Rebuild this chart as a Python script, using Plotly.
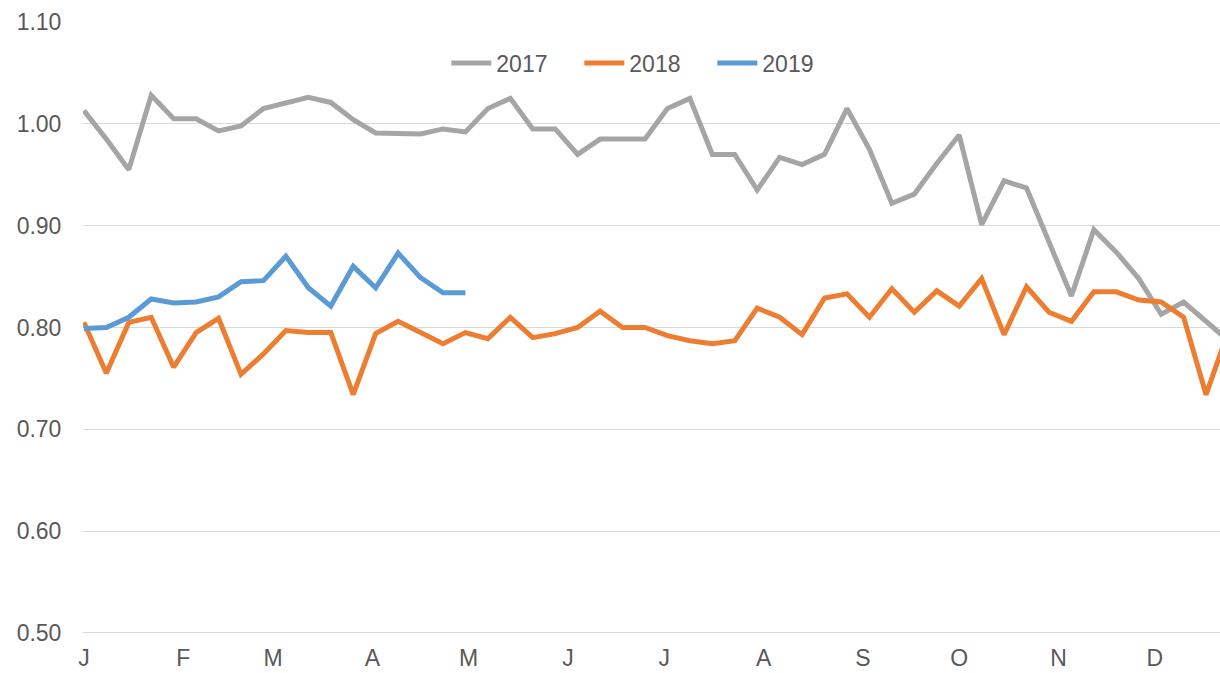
import plotly.graph_objects as go

# ---- data (weekly index values) ----
weeks = list(range(52))

y2017 = [1.013, 0.985, 0.955, 1.028, 1.005, 1.005, 0.993, 0.998, 1.015, 1.020,
         1.026, 1.021, 1.004, 0.991, 0.990, 0.990, 0.995, 0.992, 1.015, 1.025,
         0.995, 0.995, 0.970, 0.985, 0.985, 0.985, 1.015, 1.025, 0.970, 0.970,
         0.935, 0.967, 0.960, 0.970, 1.015, 0.975, 0.922, 0.931, 0.961, 0.989,
         0.901, 0.944, 0.937, 0.884, 0.831, 0.896, 0.874, 0.848, 0.813, 0.825,
         0.806, 0.787]

y2018 = [0.805, 0.755, 0.805, 0.810, 0.761, 0.795, 0.809, 0.754, 0.774, 0.797,
         0.795, 0.795, 0.734, 0.794, 0.806, 0.795, 0.784, 0.795, 0.789, 0.810,
         0.790, 0.794, 0.800, 0.816, 0.800, 0.800, 0.792, 0.787, 0.784, 0.787,
         0.819, 0.810, 0.793, 0.829, 0.833, 0.810, 0.838, 0.815, 0.836, 0.821,
         0.848, 0.793, 0.840, 0.815, 0.806, 0.835, 0.835, 0.827, 0.825, 0.810,
         0.734, 0.797]

y2019 = [0.799, 0.800, 0.810, 0.828, 0.824, 0.825, 0.830, 0.845, 0.846, 0.870,
         0.839, 0.821, 0.860, 0.839, 0.873, 0.849, 0.834, 0.834]

month_labels = ["J", "F", "M", "A", "M", "J", "J", "A", "S", "O", "N", "D"]
month_start_day = [0, 31, 59, 90, 120, 151, 181, 212, 243, 273, 304, 334]
y_ticks = [0.50, 0.60, 0.70, 0.80, 0.90, 1.00, 1.10]

series = [
    ("2017", y2017, "#A5A5A5"),
    ("2018", y2018, "#ED7D31"),
    ("2019", y2019, "#5B9BD5"),
]

FONT = "Liberation Sans, Arial, sans-serif"
TXT = "#595959"

fig = go.Figure()
for name, vals, color in series:
    fig.add_trace(go.Scatter(
        x=weeks[:len(vals)], y=vals, name=name, mode="lines",
        line=dict(color=color, width=5),
    ))

fig.update_layout(
    width=1220, height=673,
    margin=dict(l=83, r=0, t=22, b=38),
    paper_bgcolor="white", plot_bgcolor="white",
    font=dict(family=FONT, size=23, color=TXT),
    showlegend=True,
    legend=dict(orientation="h", x=0.495, xanchor="center", y=0.933, yanchor="middle",
                font=dict(family=FONT, size=23, color=TXT),
                bgcolor="rgba(0,0,0,0)", itemwidth=40,
                entrywidth=78, entrywidthmode="pixels", tracegroupgap=0),
)

fig.update_xaxes(
    range=[-0.04, 50.62],
    tickmode="array",
    tickvals=[d / 7 for d in month_start_day],
    ticktext=month_labels,
    showgrid=False, zeroline=False, showline=False, automargin=False,
    ticks="outside", ticklen=2, tickcolor="rgba(0,0,0,0)",
    tickfont=dict(family=FONT, size=23, color=TXT),
)

fig.update_yaxes(
    range=[0.498, 1.1],
    tickmode="array",
    tickvals=y_ticks,
    ticktext=[f"{v:.2f}" for v in y_ticks],
    showgrid=True, gridcolor="#D9D9D9", gridwidth=1.3,
    zeroline=False, showline=False, automargin=False,
    ticks="outside", ticklen=16, tickcolor="rgba(0,0,0,0)",
    tickfont=dict(family=FONT, size=23, color=TXT),
)

fig.write_html("out.html", config={"displayModeBar": False},
               post_script="document.body.style.margin='0';")
